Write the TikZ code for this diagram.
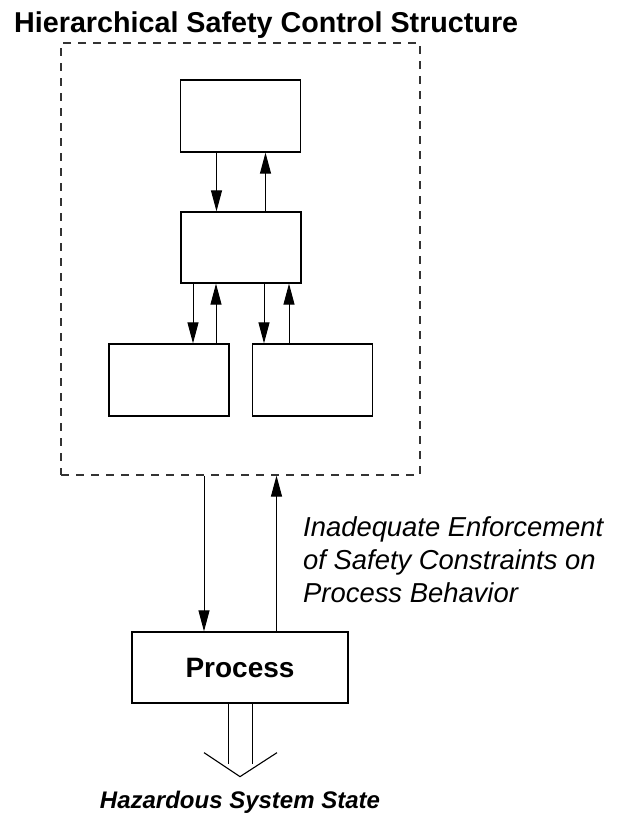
\documentclass[tikz,border=0pt]{standalone}
\usepackage{fontspec}
\setmainfont{Liberation Sans}
\usetikzlibrary{arrows.meta, positioning, calc}

\begin{document}
\begin{tikzpicture}[
    x=1pt, y=-1pt,
    box/.style={rectangle, draw=black, line width=1.3pt, minimum width=120pt, minimum height=72pt, inner sep=0pt},
    frame/.style={rectangle, draw=black!80, line width=1.2pt, dash pattern=on 8pt off 7pt, minimum width=359pt, minimum height=432pt, inner sep=0pt},
    heading/.style={font=\fontsize{28.7}{34}\selectfont\bfseries, inner sep=0pt},
    note/.style={font=\fontsize{27.4}{33}\selectfont\itshape, align=left, inner sep=0pt},
    arrow/.style={-{Triangle[length=21pt, width=11pt]}, line width=1pt}
]
\useasboundingbox (0,0) rectangle (625,820);

% Title
\node[heading, anchor=base west] (title) at (14,32) {Hierarchical Safety Control Structure};

% Control structure
\node[frame] (hscs) at (240.5,259) {};
\node[box] (top) at (240.5,116) {};
\node[box, minimum height=71pt] (mid) at (241,247.5) {};
\node[box] (left) at (169,380) {};
\node[box] (right) at (312.5,380) {};

% Controlled process
\node[box, minimum width=216pt, minimum height=71pt, font=\fontsize{28}{34}\selectfont\bfseries] (proc) at (240,667.5) {Process};

% Paths inside the structure
\draw[arrow] ([xshift=-24pt]top.south) -- ([xshift=-24pt]top.south |- mid.north);
\draw[arrow] ([xshift=24.5pt]mid.north) -- ([xshift=24.5pt]mid.north |- top.south);
\draw[arrow] ([xshift=-48pt]mid.south) -- ([xshift=-48pt]mid.south |- left.north);
\draw[arrow] ([xshift=47pt]left.north) -- ([xshift=47pt]left.north |- mid.south);
\draw[arrow] ([xshift=23pt]mid.south) -- ([xshift=23pt]mid.south |- right.north);
\draw[arrow] ([xshift=-23.5pt]right.north) -- ([xshift=-23.5pt]right.north |- mid.south);

% Paths to and from the process
\draw[arrow] ([xshift=-36.5pt]hscs.south) -- ([xshift=-36.5pt]hscs.south |- proc.north);
\draw[arrow] ([xshift=36.5pt]proc.north) -- ([xshift=36.5pt]proc.north |- hscs.south);
\node[note, anchor=north west] (enforce) at (303,516) {Inadequate Enforcement\\of Safety Constraints on\\Process Behavior};

% Hazard output
\coordinate[below=73pt of proc.south] (tip);
\draw[line width=1.1pt] ([xshift=-11.5pt]proc.south) -- ([xshift=-11.5pt,yshift=13pt]tip);
\draw[line width=1.1pt] ([xshift=12.5pt]proc.south) -- ([xshift=12.5pt,yshift=13pt]tip);
\draw[line width=1.1pt] ([xshift=-36pt,yshift=24pt]tip) -- (tip) -- ([xshift=37pt,yshift=24pt]tip);
\node[anchor=base, inner sep=0pt, font=\fontsize{24}{28}\selectfont\bfseries\itshape] (hazard) at ($(tip)+(0,32)$) {Hazardous System State};

\end{tikzpicture}
\end{document}
